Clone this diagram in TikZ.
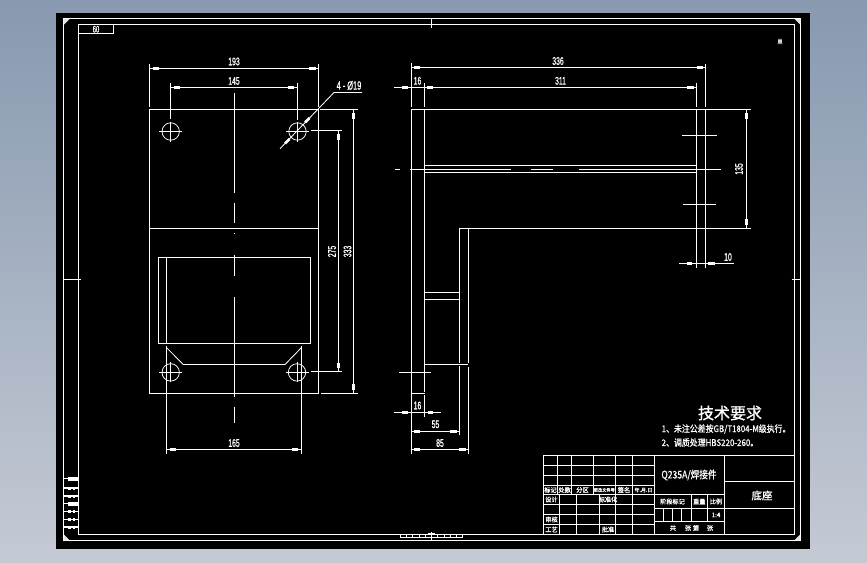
\documentclass[tikz,border=0pt]{standalone}
\usepackage{fontspec}
\setmainfont{Liberation Sans}[FakeStretch=0.62,FakeBold=0.8]
\newfontfamily\cjk{Noto Sans CJK SC}[FakeBold=1.2]
\newfontfamily\cjkn{Noto Sans CJK SC}[FakeStretch=0.86,FakeBold=0.8]
\newfontfamily\cjkq{Noto Sans CJK SC}[FakeStretch=0.82,FakeBold=0.8]
\definecolor{bgtop}{HTML}{8899B0}
\definecolor{bgbot}{HTML}{C4CAD4}
\tikzset{
  ln/.style={draw=white,line width=0.85pt},
  thin ln/.style={draw=white,line width=0.75pt},
  ar/.style={draw=white,line width=2.6pt},
  dimtxt/.style={text=white,inner sep=0pt,font=\fontsize{11}{11}\selectfont},
  cjktxt/.style={text=white,inner sep=0pt,font=\cjk\fontsize{6.2}{6.2}\selectfont},
  notetxt/.style={text=white,inner sep=0pt,anchor=west,font=\cjkn\fontsize{9.2}{9.2}\selectfont}
}
\begin{document}
\begin{tikzpicture}[x=1pt,y=-1pt]
\useasboundingbox (0,0) rectangle (867,562);
\shade[top color=bgtop,bottom color=bgbot] (0,0) rectangle (867,562);
\fill[black] (56,13) rectangle (810,548.5);
% frame
\draw[ln] (63.7,18.5) rectangle (800.5,540.3);
\draw[ln] (78.7,24.5) rectangle (794,534.5);
\draw[ln] (78.7,33.7) -- (113.5,33.7) -- (113.5,24.5);
\node[dimtxt,rotate=180,font=\fontsize{9.5}{9.5}\selectfont] (zone) at (96,29.2) {09};
\fill[white!90!black] (64,19) -- (69.5,19) -- (64,24.5) -- cycle;
\fill[white!90!black] (800,19) -- (794.5,19) -- (800,24.5) -- cycle;
\fill[white!90!black] (64,540) -- (69.5,540) -- (64,534.5) -- cycle;
\fill[white!90!black] (800,540) -- (794.5,540) -- (800,534.5) -- cycle;
\draw[ln] (431.5,18.5) -- (431.5,27.7);
\draw[ln] (431.5,531.7) -- (431.5,540.3);
\draw[ln] (63.7,279.5) -- (81,279.5);
\draw[ln] (791.5,279.5) -- (800.5,279.5);
\node[dimtxt,rotate=180,font=\fontsize{7.5}{7.5}\selectfont] (mark) at (780,41.5) {W};
% bottom ruler
\draw[thin ln] (400.3,534.5) -- (400.3,537.3) -- (462.7,537.3) -- (462.7,534.8);
\foreach \x in {406.5,412.7,419,425.2,437.8,444,450.2,456.5}
  \draw[thin ln] (\x,534.5) -- (\x,537.3);
\draw[ln] (428,533.5) -- (435,533.5);
% side strip
\foreach \a/\b in {477/481,502/505.5}{
  \fill[white] (67.5,\a) rectangle (78.5,\b);
  \fill[white] (64,\a+1) rectangle (67.5,\a+2);
}
\foreach \a in {486.5,494.5,510,518,525.5}{
  \fill[white] (64,\a+0.8) rectangle (78.5,\a+2.4);
  \fill[white] (68,\a) rectangle (70.5,\a+3.2);
  \fill[white] (72.5,\a) rectangle (74.5,\a+3.2);
}
% left view
\draw[ln] (149.4,109) rectangle (318.5,393.4);
\draw[ln] (149.4,228.3) -- (318.5,228.3);
\draw[ln] (158.3,257.5) rectangle (310.7,343.5);
\draw[ln] (166.4,257.5) -- (166.4,343.5);
\draw[ln] (166.4,345.5) -- (166.4,453.5);
\draw[ln] (301.5,345.5) -- (301.5,453.5);
\draw[ln] (166.4,347.5) -- (183.3,364.5) -- (285,364.5) -- (301.5,347.5);
% centre line
\draw[ln] (234.3,93) -- (234.3,192.7);
\draw[ln] (234.3,203) -- (234.3,223);
\draw[ln] (234.3,233) -- (234.3,233.8);
\draw[ln] (234.3,255) -- (234.3,275.7);
\draw[ln] (234.3,297) -- (234.3,396.7);
\draw[ln] (234.3,406.7) -- (234.3,423.3);
% holes
\foreach \cx/\cy in {170.7/131.5,297.5/131.5,170.7/372.4,297/372.4}{
  \draw[thin ln] (\cx,\cy) circle (8.7pt);
  \draw[thin ln] (\cx-11.5,\cy) -- (\cx+11.5,\cy);
  \draw[thin ln] (\cx,\cy-10) -- (\cx,\cy+10);
}
% dim 193
\draw[ln] (149.4,64) -- (149.4,107);
\draw[ln] (318.5,64) -- (318.5,107);
\draw[ln] (149.4,68.3) -- (318.5,68.3);
\draw[ar] (152.5,68.3) -- (159,68.3);
\draw[ar] (309,68.3) -- (315.5,68.3);
\node[dimtxt] (t193) at (234,61.5) {193};
% dim 145
\draw[ln] (170.5,83) -- (170.5,119);
\draw[ln] (297.5,83) -- (297.5,119.5);
\draw[ln] (170.5,87.3) -- (297.5,87.3);
\draw[ar] (174,87.3) -- (180,87.3);
\draw[ar] (288,87.3) -- (294,87.3);
\node[dimtxt] (t145) at (234,81) {145};
% leader
\draw[ln] (280,148.7) -- (334,92.5) -- (362,92.5);
\draw[ar] (285,143.5) -- (289.5,139);
\draw[ar] (305,122.5) -- (309.5,118);
\node[dimtxt,font=\fontsize{12}{12}\selectfont] (thole) at (349,85.5) {4\,-\,Ø19};
% dim 275
\draw[ln] (311,130.5) -- (342,130.5);
\draw[ln] (311,371.4) -- (342,371.4);
\draw[ln] (338.4,130.5) -- (338.4,371.4);
\draw[ar] (338.4,134) -- (338.4,140);
\draw[ar] (338.4,363) -- (338.4,368);
\node[dimtxt,rotate=90] (t275) at (332,251.5) {275};
% dim 333
\draw[ln] (320,109) -- (358,109);
\draw[ln] (321,393.4) -- (358,393.4);
\draw[ln] (353.5,109) -- (353.5,393.4);
\draw[ar] (353.5,113) -- (353.5,119);
\draw[ar] (353.5,384) -- (353.5,390);
\node[dimtxt,rotate=90] (t333) at (347.5,251.5) {333};
% dim 165
\draw[ln] (166.4,449.3) -- (301.5,449.3);
\draw[ar] (170,449.3) -- (176,449.3);
\draw[ar] (292,449.3) -- (298,449.3);
\node[dimtxt] (t165) at (234,443) {165};
% right view
\draw[ln] (411.5,109.4) -- (751,109.4);
\draw[ln] (411.5,63) -- (411.5,107);
\draw[ln] (411.5,109.4) -- (411.5,453.7);
\draw[ln] (424.5,83) -- (424.5,107);
\draw[ln] (424.5,109.4) -- (424.5,392);
\draw[ln] (424.5,395) -- (424.5,416.7);
\draw[ln] (411.5,393.4) -- (424.5,393.4);
\draw[ln] (424.5,165.3) -- (696.5,165.3);
\draw[ln] (424.5,172.5) -- (696.5,172.5);
\draw[ln] (395,169.3) -- (400,169.3);
\draw[ln] (410,169.3) -- (511,169.3);
\draw[ln] (531,169.3) -- (553,169.3);
\draw[ln] (579,169.3) -- (721,169.3);
\draw[ln] (696.5,83) -- (696.5,107);
\draw[ln] (696.5,109.4) -- (696.5,267.7);
\draw[ln] (705.5,64) -- (705.5,107);
\draw[ln] (705.5,109.4) -- (705.5,267.7);
\draw[ln] (682,135.3) -- (717,135.3);
\draw[ln] (683,204.3) -- (716,204.3);
\draw[ln] (459.5,228.3) -- (751,228.3);
\draw[ln] (459.5,228.3) -- (459.5,362.5);
\draw[ln] (459.5,366) -- (459.5,435);
\draw[ln] (468.3,228.3) -- (468.3,363);
\draw[ln] (468.3,366.5) -- (468.3,453.7);
\draw[ln] (424.5,292.3) -- (459.5,292.3);
\draw[ln] (424.5,299.3) -- (459.5,299.3);
\draw[ln] (424.5,364.3) -- (467.5,364.3);
\draw[ln] (399,372.3) -- (431,372.3);
% dim 336
\draw[ln] (411.5,67.3) -- (705.5,67.3);
\draw[ar] (414,67.3) -- (420,67.3);
\draw[ar] (696.5,67.3) -- (702.5,67.3);
\node[dimtxt] (t336) at (558,61) {336};
% dim 16 / 311
\draw[ln] (394,87.3) -- (696.5,87.3);
\draw[ar] (402,87.3) -- (408,87.3);
\draw[ar] (427,87.3) -- (433,87.3);
\draw[ar] (687,87.3) -- (693.5,87.3);
\node[dimtxt] (t16a) at (417.5,80.8) {16};
\node[dimtxt] (t311) at (560.5,80.8) {311};
% dim 135
\draw[ln] (746.3,109.4) -- (746.3,228.3);
\draw[ar] (746.3,112.5) -- (746.3,119);
\draw[ar] (746.3,219) -- (746.3,225);
\node[dimtxt,rotate=90] (t135) at (739,169) {135};
% dim 10
\draw[ln] (679,263.3) -- (734,263.3);
\draw[ar] (687,263.3) -- (692,263.3);
\draw[ar] (708,263.3) -- (715,263.3);
\node[dimtxt] (t10) at (728,257) {10};
% dim 16 bottom
\draw[ln] (394,412.3) -- (441,412.3);
\draw[ar] (402,412.3) -- (408,412.3);
\draw[ar] (428,412.3) -- (433,412.3);
\node[dimtxt] (t16b) at (417.5,405.5) {16};
% dim 55
\draw[ln] (411.5,431.3) -- (459.5,431.3);
\draw[ar] (414,431.3) -- (420,431.3);
\draw[ar] (450,431.3) -- (457,431.3);
\node[dimtxt] (t55) at (435.5,424.3) {55};
% dim 85
\draw[ln] (411.5,449.5) -- (468.3,449.5);
\draw[ar] (414,449.5) -- (420,449.5);
\draw[ar] (459,449.5) -- (466,449.5);
\node[dimtxt] (t85) at (440,443) {85};
% notes
\node[text=white,inner sep=0pt,font=\cjk\fontsize{16}{16}\selectfont] (ntitle) at (730,413) {技术要求};
\node[notetxt] (n1) at (661.5,429) {1、未注公差按GB/T1804-M级执行。};
\node[notetxt] (n2) at (661.5,442.5) {2、调质处理HBS220-260。};
% title block
\draw[ln] (543.3,455.3) rectangle (794,534.5);
\draw[ln] (654.3,455.3) -- (654.3,534.5);
\draw[ln] (724.3,455.3) -- (724.3,534.5);
\foreach \y in {465.3,475.3,485.3,494.3,504.3,514.3,524.3}
  \draw[ln] (543.3,\y) -- (654.3,\y);
\foreach \x in {557.7,571.7,593.3,615.3,632.7}
  \draw[ln] (\x,455.3) -- (\x,494.3);
\foreach \x in {559.7,576.7,599.7,615.3,632.7}
  \draw[ln] (\x,494.3) -- (\x,534.5);
\draw[ln] (654.3,494.3) -- (724.3,494.3);
\draw[ln] (654.3,508.3) -- (794,508.3);
\draw[ln] (654.3,521.7) -- (724.3,521.7);
\draw[ln] (724.3,481.3) -- (794,481.3);
\draw[ln] (691,494.3) -- (691,521.7);
\draw[ln] (707.7,494.3) -- (707.7,521.7);
\foreach \x in {663.7,672.7,681.7}
  \draw[ln] (\x,508.3) -- (\x,521.7);
\node[text=white,inner sep=0pt,font=\cjkq\fontsize{10.5}{10.5}\selectfont] (mat) at (689,475) {Q235A/焊接件};
\node[text=white,inner sep=0pt,font=\cjk\fontsize{10.5}{10.5}\selectfont] (nm) at (762,495.5) {底座};
\node[cjktxt] (a1) at (550.5,490) {标记};
\node[cjktxt] (a2) at (564.7,490) {处数};
\node[cjktxt] (a3) at (582.5,490) {分区};
\node[cjktxt,font=\cjk\fontsize{4.2}{4.2}\selectfont] (a4) at (604.3,490) {更改文件号};
\node[cjktxt] (a5) at (624,490) {签名};
\node[cjktxt,font=\cjk\fontsize{5}{5}\selectfont] (a6) at (643.5,490) {年.月.日};
\node[cjktxt] (b1) at (551.5,499.5) {设计};
\node[cjktxt] (b2) at (608,499.5) {标准化};
\node[cjktxt] (b3) at (551.5,519.5) {审核};
\node[cjktxt] (b4) at (551.5,529.5) {工艺};
\node[cjktxt] (b5) at (608,529.5) {批准};
\node[cjktxt] (c1) at (672.5,501.5) {阶段标记};
\node[cjktxt] (c2) at (699.3,501.5) {重量};
\node[cjktxt] (c3) at (716,501.5) {比例};
\node[cjktxt] (c4) at (716,515) {1:4};
\node[cjktxt] (d1) at (673,528) {共};
\node[cjktxt] (d2) at (688,528) {张};
\node[cjktxt] (d3) at (696,528) {第};
\node[cjktxt] (d4) at (710,528) {张};
\end{tikzpicture}
\end{document}
